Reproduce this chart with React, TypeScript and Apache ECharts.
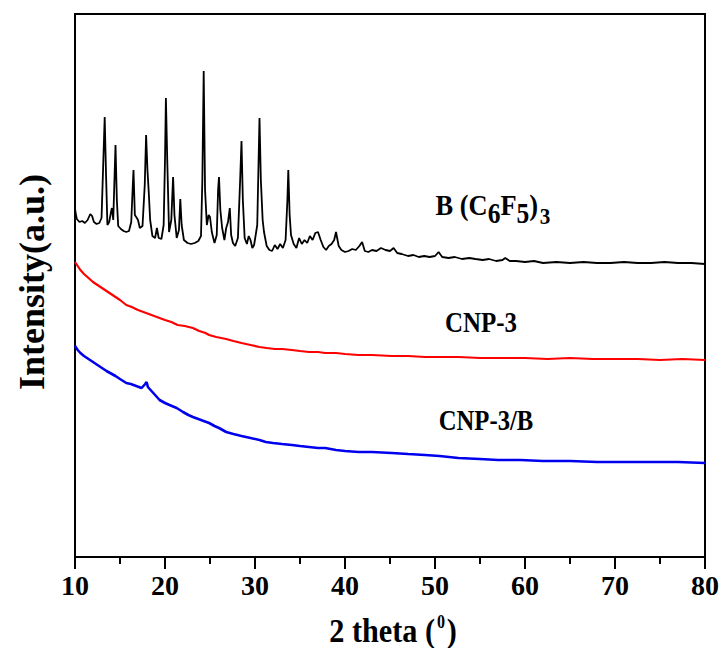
import React, { useEffect, useRef } from "react";
import * as echarts from "echarts";

// 2θ (degrees) and intensity (a.u.) pairs
const blackData: [number, number][] = [
  [10.0, 349], [10.05, 345], [10.2, 338], [10.5, 335], [10.8, 336], [11.1, 334], [11.4, 337], [11.7, 343],
  [11.9, 341], [12.1, 335], [12.4, 333], [12.7, 334], [12.95, 339], [13.15, 397], [13.3, 440], [13.45, 382],
  [13.6, 332], [13.8, 335], [14.0, 345], [14.1, 349], [14.25, 337], [14.4, 382], [14.5, 412], [14.65, 357],
  [14.8, 331], [15.1, 328], [15.4, 326], [15.7, 325], [16.0, 326], [16.25, 335], [16.4, 367], [16.5, 387],
  [16.65, 342], [16.8, 340], [17.0, 337], [17.2, 329], [17.5, 331], [17.75, 372], [17.9, 422], [18.05, 387],
  [18.2, 364], [18.35, 337], [18.6, 321], [18.9, 319], [19.1, 329], [19.3, 319], [19.6, 318], [19.85, 332],
  [20.0, 397], [20.1, 459], [20.25, 397], [20.45, 325], [20.7, 337], [20.9, 380], [21.05, 342], [21.3, 319],
  [21.55, 327], [21.7, 358], [21.85, 332], [22.1, 317], [22.5, 314], [22.9, 313], [23.3, 314], [23.7, 316],
  [24.0, 321], [24.15, 377], [24.3, 486], [24.45, 367], [24.65, 332], [24.85, 342], [25.0, 340], [25.2, 325],
  [25.5, 314], [25.75, 322], [25.9, 367], [26.0, 380], [26.15, 347], [26.35, 329], [26.6, 317], [26.8, 329],
  [27.0, 335], [27.2, 349], [27.35, 322], [27.55, 314], [27.8, 311], [28.1, 319], [28.35, 377], [28.5, 416],
  [28.65, 357], [28.85, 319], [29.1, 313], [29.3, 321], [29.5, 317], [29.7, 309], [29.9, 312], [30.25, 332],
  [30.4, 397], [30.5, 439], [30.65, 377], [30.85, 337], [31.0, 325], [31.3, 311], [31.6, 307], [31.9, 306],
  [32.2, 312], [32.5, 308], [32.8, 313], [33.1, 309], [33.4, 317], [33.6, 357], [33.7, 387], [33.85, 342],
  [34.0, 322], [34.3, 313], [34.6, 309], [34.9, 319], [35.2, 313], [35.5, 317], [35.8, 314], [36.1, 321],
  [36.4, 317], [36.7, 324], [37.0, 325], [37.3, 317], [37.6, 310], [37.9, 307], [38.2, 311], [38.5, 313],
  [38.8, 317], [39.0, 325], [39.3, 311], [39.6, 307], [40.0, 305], [40.4, 306], [40.8, 308], [41.2, 307],
  [41.6, 311], [41.9, 315], [42.2, 306], [42.6, 305], [43.0, 307], [43.5, 306], [44.0, 309], [44.5, 307],
  [45.0, 306], [45.4, 309], [45.8, 304], [46.3, 303], [47.0, 301], [47.6, 302], [48.2, 300], [48.8, 301],
  [49.4, 300], [50.0, 301], [50.4, 305], [50.8, 300], [51.5, 299], [52.2, 300], [53.0, 298], [53.8, 299],
  [54.5, 298], [55.3, 297], [56.0, 298], [56.8, 296], [57.5, 297], [57.8, 299], [58.3, 296], [59.0, 296],
  [60.0, 295], [61.0, 296], [62.0, 294], [63.5, 295], [65.0, 294], [66.5, 295], [68.0, 294], [69.5, 294],
  [71.0, 295], [72.5, 294], [74.0, 294], [75.5, 295], [77.0, 294], [78.5, 294], [80.0, 293],
];

const redData: [number, number][] = [
  [10.0, 295], [10.3, 291], [10.6, 287], [11.0, 283], [11.5, 279], [12.0, 275], [12.5, 272], [13.0, 269],
  [13.5, 266], [14.0, 263], [14.5, 260], [15.0, 257], [15.7, 252], [16.3, 250], [17.0, 247], [17.6, 245],
  [18.2, 243], [18.8, 241], [19.4, 239], [20.0, 237], [20.7, 235], [21.4, 232], [22.2, 231], [23.1, 229],
  [23.8, 226], [24.5, 224], [24.9, 222], [25.7, 220], [26.8, 218], [27.6, 216], [28.5, 214], [29.5, 212],
  [30.5, 210], [31.3, 209], [32.2, 208], [33.0, 208], [34.1, 207], [35.0, 206], [36.0, 205], [37.0, 205],
  [37.8, 204], [39.0, 204], [40.0, 203], [41.5, 202], [43.0, 202], [45.2, 201], [47.0, 201], [48.9, 200],
  [51.0, 200], [52.6, 200], [55.0, 199], [57.5, 199], [60.0, 199], [62.5, 198], [65.0, 199], [67.5, 198],
  [70.0, 198], [72.5, 198], [75.0, 197], [77.5, 198], [80.0, 197],
];

const blueData: [number, number][] = [
  [10.0, 211], [10.3, 207], [10.6, 204], [11.0, 201], [11.5, 198], [12.0, 195], [12.5, 192], [13.0, 189],
  [13.5, 186], [13.9, 184], [14.5, 181], [15.0, 178], [15.7, 174], [16.2, 173], [16.8, 171], [17.4, 169],
  [17.8, 173], [17.95, 175], [18.1, 170], [18.4, 167], [18.9, 162], [19.4, 157], [20.0, 154], [20.5, 152],
  [21.3, 149], [22.0, 145], [22.6, 142], [23.1, 140], [24.0, 137], [24.9, 134], [25.5, 131], [26.0, 129],
  [26.8, 125], [27.6, 123], [28.5, 121], [29.5, 119], [30.5, 117], [31.2, 115], [32.0, 114], [33.0, 113],
  [34.1, 112], [35.0, 111], [36.0, 110], [37.0, 109], [37.8, 109], [39.0, 107], [40.0, 106], [41.5, 105],
  [43.0, 105], [45.2, 104], [47.0, 103], [48.9, 102], [50.5, 101], [52.6, 99], [55.0, 98], [57.0, 97],
  [59.5, 97], [62.0, 96], [65.0, 96], [68.0, 95], [71.0, 95], [74.0, 95], [77.0, 95], [80.0, 94],
];

const xMin = 10;
const xMax = 80;
const xStep = 10;
const yMin = 0;
const yMax = 543;

const FONT = "'Liberation Serif', 'Times New Roman', serif";

export default function App() {
  const ref = useRef<HTMLDivElement>(null);

  useEffect(() => {
    if (!ref.current) return;
    const chart = echarts.init(ref.current, null, { renderer: "svg" });
    const option: any = {
      animation: false,
      backgroundColor: "#fff",
      textStyle: { fontFamily: FONT },
      grid: {
        left: 75,
        right: 17,
        top: 14,
        bottom: 91,
        show: true,
        borderColor: "#000",
        borderWidth: 2,
        backgroundColor: "transparent",
      },
      xAxis: {
        type: "value",
        min: xMin,
        max: xMax,
        interval: xStep,
        axisLine: { show: true, lineStyle: { color: "#000", width: 2 } },
        axisTick: { show: true, inside: false, length: 12, lineStyle: { color: "#000", width: 2 } },
        minorTick: { show: true, splitNumber: 2, length: 7, lineStyle: { color: "#000", width: 2 } },
        splitLine: { show: false },
        axisLabel: {
          color: "#000",
          fontFamily: FONT,
          fontWeight: "bold",
          fontSize: 28,
          margin: 14,
        },
      },
      yAxis: {
        type: "value",
        min: yMin,
        max: yMax,
        axisLine: { show: true, lineStyle: { color: "#000", width: 2 } },
        axisTick: { show: false },
        axisLabel: { show: false },
        splitLine: { show: false },
      },
      series: [
        {
          name: "B(C6F5)3",
          type: "line",
          data: blackData,
          showSymbol: false,
          symbol: "none",
          lineStyle: { color: "#000", width: 1.8 },
          z: 3,
        },
        {
          name: "CNP-3",
          type: "line",
          data: redData,
          showSymbol: false,
          symbol: "none",
          lineStyle: { color: "#ff0000", width: 2.2 },
        },
        {
          name: "CNP-3/B",
          type: "line",
          data: blueData,
          showSymbol: false,
          symbol: "none",
          lineStyle: { color: "#0000ee", width: 2.6 },
        },
      ],
      graphic: [
        {
          type: "text",
          x: 493,
          y: 209,
          scaleX: 0.88,
          style: {
            text: "{n|B (C}{s|6}{n|F}{s|5}{n|)}{t|3}",
            textAlign: "center",
            textVerticalAlign: "middle",
            fill: "#000",
            rich: {
              n: { fontSize: 30, fontWeight: "bold", fontFamily: FONT, verticalAlign: "top", fill: "#000" },
              s: { fontSize: 29, fontWeight: "bold", fontFamily: FONT, verticalAlign: "top", padding: [9, 0, 0, 0], fill: "#000" },
              t: { fontSize: 24, fontWeight: "bold", fontFamily: FONT, verticalAlign: "top", padding: [14, 0, 0, 2], fill: "#000" },
            },
          },
        },
        {
          type: "text",
          x: 481,
          y: 322,
          scaleX: 0.86,
          style: {
            text: "CNP-3",
            textAlign: "center",
            textVerticalAlign: "middle",
            fontSize: 29,
            fontWeight: "bold",
            fontFamily: FONT,
            fill: "#000",
          },
        },
        {
          type: "text",
          x: 486,
          y: 420,
          scaleX: 0.85,
          style: {
            text: "CNP-3/B",
            textAlign: "center",
            textVerticalAlign: "middle",
            fontSize: 29,
            fontWeight: "bold",
            fontFamily: FONT,
            fill: "#000",
          },
        },
        {
          type: "text",
          x: 393,
          y: 628,
          scaleX: 0.89,
          style: {
            text: "{n|2 theta (}{p|0}{n|)}",
            textAlign: "center",
            textVerticalAlign: "middle",
            fill: "#000",
            rich: {
              n: { fontSize: 34, lineHeight: 30, fontWeight: "bold", fontFamily: FONT, verticalAlign: "top", fill: "#000" },
              p: { fontSize: 18, lineHeight: 18, fontWeight: "bold", fontFamily: FONT, verticalAlign: "top", padding: [0, 2, 0, 2], fill: "#000" },
            },
          },
        },
        {
          type: "text",
          x: 32,
          y: 282,
          rotation: Math.PI / 2,
          style: {
            text: "Intensity(a.u.)",
            textAlign: "center",
            textVerticalAlign: "middle",
            fontSize: 36,
            fontWeight: "bold",
            fontFamily: FONT,
            fill: "#000",
          },
        },
      ],
    };
    chart.setOption(option);
    return () => {
      chart.dispose();
    };
  }, []);

  return (
    <div
      ref={ref}
      style={{ position: "fixed", left: 0, top: 0, width: 722, height: 648, background: "#fff" }}
    />
  );
}
